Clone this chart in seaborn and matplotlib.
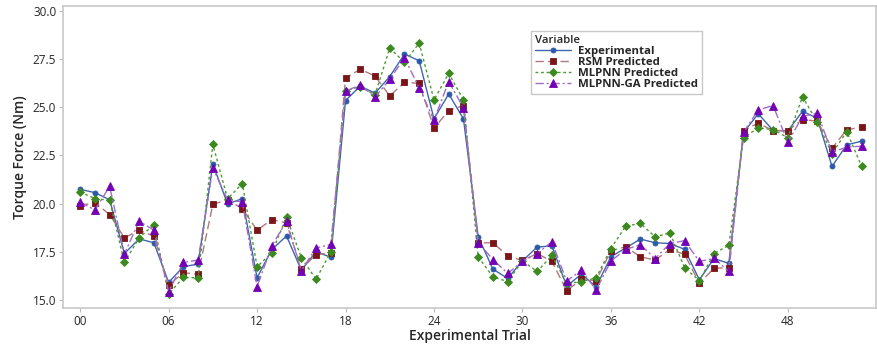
import numpy as np
import pandas as pd
import matplotlib
matplotlib.use("Agg")
import matplotlib.pyplot as plt
import seaborn as sns

trials = list(range(54))
experimental = [20.74, 20.57, 20.2, 17.41, 18.17, 17.97, 15.91, 16.73, 16.86, 22.05,
                19.98, 20.26, 16.15, 17.62, 18.32, 16.55, 17.5, 17.22, 25.35, 26.1,
                25.73, 26.59, 27.76, 27.41, 24.4, 25.69, 24.4, 18.28, 16.6, 16.12,
                17.03, 17.75, 17.8, 15.72, 16.34, 15.69, 17.24, 17.7, 18.16, 17.97,
                17.93, 17.63, 16.05, 17.15, 16.9, 23.7, 24.66, 23.8, 23.77, 24.79,
                24.43, 21.93, 23.05, 23.24]
rsm = [19.9, 20.05, 19.43, 18.22, 18.62, 18.31, 15.78, 16.41, 16.34, 19.96,
       20.2, 19.74, 18.62, 19.17, 19.0, 16.6, 17.36, 17.42, 26.52, 26.97,
       26.62, 25.59, 26.29, 26.24, 23.91, 24.83, 25.09, 17.96, 17.97, 17.29,
       17.05, 17.41, 17.0, 15.48, 16.07, 16.0, 17.55, 17.76, 17.24, 17.07,
       17.62, 17.37, 15.87, 16.65, 16.67, 23.79, 24.18, 23.79, 23.79, 24.36,
       24.28, 22.88, 23.83, 23.97]
mlpnn = [20.6, 20.26, 20.17, 16.95, 18.22, 18.91, 15.31, 16.17, 16.15, 23.07,
         20.25, 21.04, 16.73, 17.45, 19.31, 17.2, 16.07, 17.5, 25.86, 26.07,
         25.64, 28.07, 27.33, 28.33, 25.38, 26.76, 25.38, 17.24, 16.2, 15.95,
         17.03, 16.48, 17.31, 15.86, 15.95, 16.15, 17.67, 18.83, 18.97, 18.28,
         18.48, 16.68, 16.0, 17.41, 17.84, 23.42, 23.93, 23.84, 23.42, 25.55,
         24.22, 22.59, 23.74, 21.95]
mlpnn_ga = [20.09, 19.66, 20.9, 17.38, 19.09, 18.62, 15.43, 16.95, 17.07, 21.85,
            20.2, 20.08, 15.69, 17.81, 19.09, 16.52, 17.7, 17.88, 25.83, 26.16,
            25.52, 26.45, 27.56, 26.0, 24.34, 26.33, 24.97, 17.98, 17.1, 16.38,
            17.0, 17.41, 18.02, 15.98, 16.55, 15.52, 17.02, 17.62, 17.87, 17.15,
            17.93, 18.08, 17.0, 17.16, 16.48, 23.71, 24.86, 25.09, 23.19, 24.52,
            24.69, 22.67, 22.93, 22.98]
series_names = ["Experimental", "RSM Predicted", "MLPNN Predicted", "MLPNN-GA Predicted"]
xtick_vals = [0, 6, 12, 18, 24, 30, 36, 42, 48]
xtick_labels = ["00", "06", "12", "18", "24", "30", "36", "42", "48"]
ytick_vals = [15.0, 17.5, 20.0, 22.5, 25.0, 27.5, 30.0]

sns.set_style("white")
plt.rcParams['font.family'] = ['Open Sans', 'DejaVu Sans']

fig = plt.figure(figsize=(8.78, 3.45), dpi=100)
ax = fig.add_axes([0.072, 0.107, 0.926, 0.876])

styles = [
    dict(color="#2b5ba8", marker="o", ms=3.6, ls="-", lc="#3f66ad", lw=1.0),
    dict(color="#7a1518", marker="s", ms=4.6, ls=(0, (6, 3)), lc="#b07a7c", lw=1.0),
    dict(color="#3c8a1f", marker="D", ms=4.4, ls=(0, (2, 2)), lc="#4f9a35", lw=1.0),
    dict(color="#7300b5", marker="^", ms=5.6, ls=(0, (6, 2, 1.5, 2)), lc="#a06cc8", lw=1.0),
]
data = [experimental, rsm, mlpnn, mlpnn_ga]
for name, vals, st in zip(series_names, data, styles):
    df = pd.DataFrame({"Trial": trials, "Torque": vals})
    sns.lineplot(data=df, x="Trial", y="Torque", ax=ax, color=st["lc"],
                 linestyle=st["ls"], linewidth=st["lw"], marker=st["marker"],
                 markersize=st["ms"], markerfacecolor=st["color"],
                 markeredgecolor=st["color"], markeredgewidth=0.6, label=name)

ax.set_xlim(-1.15, 54.0)
ax.set_ylim(14.58, 30.26)
ax.set_xticks(xtick_vals)
ax.set_xticklabels(xtick_labels)
ax.set_yticks(ytick_vals)
ax.set_yticklabels([f"{v:.1f}" for v in ytick_vals])
ax.tick_params(axis="both", labelsize=8.5, length=3, color="#bbbbbb", direction="out",
               bottom=True, left=True, pad=2)
ax.set_xlabel("Experimental Trial", fontsize=10, fontweight="semibold", labelpad=1)
ax.set_ylabel("Torque Force (Nm)", fontsize=10, fontweight="semibold", labelpad=4)
for sp in ax.spines.values():
    sp.set_color("#c8c8c8")
    sp.set_linewidth(1.2)

leg = ax.legend(title="Variable", loc="upper left", bbox_to_anchor=(0.568, 0.935),
                fontsize=8.2, title_fontsize=8.2, frameon=True, fancybox=False,
                edgecolor="#bbbbbb", handlelength=3.2, borderpad=0.35,
                labelspacing=0.0, handletextpad=0.6)
leg._legend_box.align = "left"
for t in leg.get_texts():
    t.set_fontweight("bold")
leg.get_title().set_fontweight("semibold")

fig.savefig("out.png", dpi=100)
